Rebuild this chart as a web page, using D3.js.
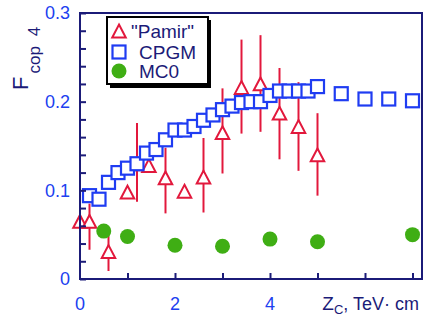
<!DOCTYPE html>
<html><head><meta charset="utf-8">
<script src="https://cdn.jsdelivr.net/npm/d3@7/dist/d3.min.js"></script>
<style>body{margin:0;background:#fff}svg{display:block}</style>
</head><body>
<svg id="c" width="423" height="323"></svg>
<script>
// ---- data ----
const xTicks = [0, 2, 4];
const yTicks = [0, 0.1, 0.2, 0.3];
const yTickLabels = ["0", "0.1", "0.2", "0.3"];

const cpgmX = [0.2,0.4,0.6,0.8,1.0,1.2,1.4,1.6,1.8,2.0,2.2,2.4,2.6,2.8,3.0,3.2,3.4,3.6,3.8,4.0,4.2,4.4,4.6,4.8,5.0,5.5,6.0,6.5,7.0];
const cpgmY = [0.094,0.090,0.109,0.120,0.125,0.130,0.142,0.146,0.157,0.168,0.168,0.172,0.179,0.185,0.191,0.195,0.199,0.200,0.200,0.207,0.212,0.212,0.212,0.212,0.217,0.209,0.203,0.203,0.201];

const pamirX  = [0, 0.2, 0.6, 1.0, 1.2, 1.45, 1.8, 2.2, 2.6, 3.0, 3.4, 3.8, 4.2, 4.6, 5.0];
const pamirY  = [0.065,0.065,0.031,0.098,0.130,0.128,0.114,0.099,0.115,0.165,0.216,0.220,0.187,0.172,0.140];
const pamirLo = [0.035,0.033,0.009,0.092,0.087,0.121,0.074,0.093,0.075,0.119,0.164,0.166,0.135,0.122,0.094];
const pamirHi = [0.098,0.085,0.052,0.104,0.176,0.135,0.148,0.105,0.159,0.215,0.270,0.275,0.238,0.222,0.187];

const mcX = [0.5, 1, 2, 3, 4, 5, 7];
const mcY = [0.054,0.048,0.038,0.037,0.045,0.042,0.050];

const legendLabels = ['"Pamir"', 'CPGM', 'MC0'];

// ---- styles ----
const RED = "#e2183c", BLUE = "#1f3cf2", GREEN = "#3fae14", NAVY = "#1b1b78", TICKBLUE = "#2040f0";
const FONT = "Arial, 'Liberation Sans', Helvetica, sans-serif";

const svg = d3.select("#c");
const x = d3.scaleLinear().domain([0, 7.2]).range([80, 422]);
const y = d3.scaleLinear().domain([0, 0.3]).range([279, 13]);

// error bars
const pamir = pamirX.map((v,i)=>({x:v,y:pamirY[i],lo:pamirLo[i],hi:pamirHi[i]}));
svg.append("g").selectAll("line").data(pamir).join("line")
  .attr("x1", d=>x(d.x)).attr("x2", d=>x(d.x))
  .attr("y1", d=>y(d.lo)).attr("y2", d=>y(d.hi))
  .attr("stroke", RED).attr("stroke-width", 2);

const tri = (cx, cy, s) => {
  const h = s * 0.95;
  return `M${cx},${cy-h/2}L${cx+s/2},${cy+h/2}L${cx-s/2},${cy+h/2}Z`;
};
svg.append("g").selectAll("path").data(pamir).join("path")
  .attr("d", d=>tri(x(d.x), y(d.y), 13.5))
  .attr("fill", "#fff").attr("stroke", RED).attr("stroke-width", 2);

// CPGM squares
const cpgm = cpgmX.map((v,i)=>({x:v,y:cpgmY[i]}));
const S = 13;
svg.append("g").selectAll("rect").data(cpgm).join("rect")
  .attr("x", d=>x(d.x)-S/2).attr("y", d=>y(d.y)-S/2)
  .attr("width", S).attr("height", S)
  .attr("fill", "#fff").attr("stroke", BLUE).attr("stroke-width", 2.2);

// MC0 circles
const mc = mcX.map((v,i)=>({x:v,y:mcY[i]}));
svg.append("g").selectAll("circle").data(mc).join("circle")
  .attr("cx", d=>x(d.x)).attr("cy", d=>y(d.y)).attr("r", 7.5)
  .attr("fill", GREEN);

// frame
svg.append("rect").attr("x", 80).attr("y", 13).attr("width", 342).attr("height", 266)
  .attr("fill", "none").attr("stroke", NAVY).attr("stroke-width", 2);

// y axis ticks (inward)
const yAxis = d3.axisLeft(y).tickValues(d3.range(0, 0.3001, 0.02)).tickSize(-6).tickFormat("");
const gy = svg.append("g").attr("transform", "translate(80,0)").call(yAxis);
gy.select(".domain").remove();
gy.selectAll("line").attr("stroke", NAVY).attr("stroke-width", 2);
// x axis ticks (inward)
const xAxis = d3.axisBottom(x).tickValues(d3.range(1, 7.01, 1)).tickSize(-6).tickFormat("");
const gx = svg.append("g").attr("transform", "translate(0,279)").call(xAxis);
gx.select(".domain").remove();
gx.selectAll("line").attr("stroke", NAVY).attr("stroke-width", 2);

// tick labels
svg.append("g").selectAll("text").data(yTicks).join("text")
  .attr("x", 70).attr("y", d=>y(d)).attr("dy", "0.36em")
  .attr("text-anchor", "end").attr("font-family", FONT).attr("font-size", 18)
  .attr("fill", TICKBLUE).text((d,i)=>yTickLabels[i]);
svg.append("g").selectAll("text").data(xTicks).join("text")
  .attr("x", d=>x(d)).attr("y", 310)
  .attr("text-anchor", "middle").attr("font-family", FONT).attr("font-size", 18)
  .attr("fill", TICKBLUE).text(d=>d);

// axis titles
const yt = svg.append("text").attr("transform", "translate(28,90) rotate(-90)")
  .attr("font-family", FONT).attr("fill", NAVY);
yt.append("tspan").attr("font-size", 22).text("F");
yt.append("tspan").attr("font-size", 17).attr("dx", 3).attr("dy", 12).text("cop");
yt.append("tspan").attr("font-size", 17).attr("dx", 10).text("4");

const xt = svg.append("text").attr("x", 419).attr("y", 310).attr("text-anchor", "end")
  .attr("font-family", FONT).attr("fill", NAVY);
xt.append("tspan").attr("font-size", 19).text("Z");
xt.append("tspan").attr("font-size", 13).attr("dy", 4).text("C");
xt.append("tspan").attr("font-size", 18).attr("dy", -4).text(", TeV· cm");

// legend
const lg = svg.append("g");
lg.append("rect").attr("x", 110).attr("y", 20).attr("width", 101).attr("height", 68).attr("fill", "#000");
lg.append("rect").attr("x", 107).attr("y", 17).attr("width", 101).attr("height", 67)
  .attr("fill", "#fff").attr("stroke", "#000").attr("stroke-width", 2);
const rows = [31, 52, 71];
lg.append("path").attr("d", tri(119, rows[0], 13.5)).attr("fill", "#fff").attr("stroke", RED).attr("stroke-width", 2);
lg.append("rect").attr("x", 119 - S/2).attr("y", rows[1] - S/2).attr("width", S).attr("height", S)
  .attr("fill", "#fff").attr("stroke", BLUE).attr("stroke-width", 2.2);
lg.append("circle").attr("cx", 119).attr("cy", rows[2]).attr("r", 7.5).attr("fill", GREEN);
lg.selectAll("text.l").data(legendLabels).join("text").attr("class", "l")
  .attr("x", (d,i)=> i===0 ? 131 : 139).attr("y", (d,i)=>rows[i] + 7)
  .attr("font-family", FONT).attr("font-size", 19).attr("fill", NAVY).text(d=>d);
</script>
</body></html>
